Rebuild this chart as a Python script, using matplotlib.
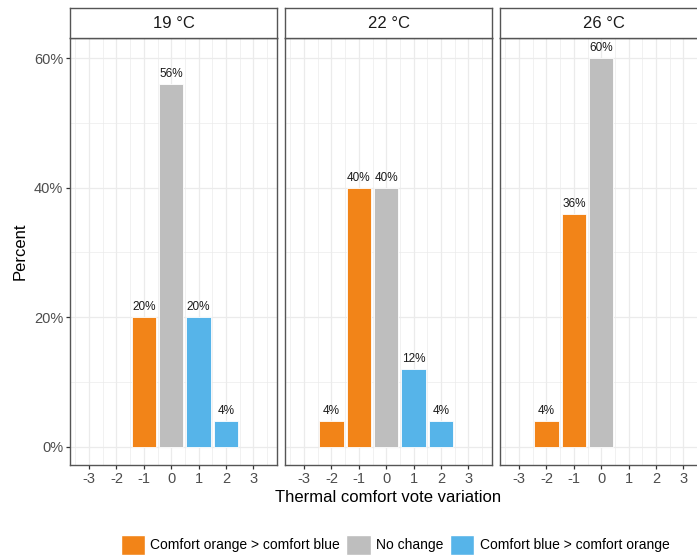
import matplotlib.pyplot as plt
from matplotlib.patches import Patch
from matplotlib.ticker import MultipleLocator

plt.rcParams["font.family"] = ["Liberation Sans", "DejaVu Sans"]

# facet labels (air temperature)
panel_labels = ["19 °C", "22 °C", "26 °C"]

# vote variation and share of votes per facet
votes_19 = [-1, 0, 1, 2]
pct_19 = [20, 56, 20, 4]
votes_22 = [-2, -1, 0, 1, 2]
pct_22 = [4, 40, 40, 12, 4]
votes_26 = [-2, -1, 0]
pct_26 = [4, 36, 60]

categories = ["Comfort orange > comfort blue", "No change",
              "Comfort blue > comfort orange"]
cat_colors = ["#F28418", "#BEBEBE", "#56B4E9"]

x_ticks = [-3, -2, -1, 0, 1, 2, 3]
y_ticks = [0, 20, 40, 60]

W, H = 697, 558
fig = plt.figure(figsize=(W / 100, H / 100), dpi=100)

panel_left = [70, 285, 500]
panel_w = 207
panel_top, panel_bot = 38, 465
strip_top = 8

border = "#555555"
grid_col = "#EBEBEB"
tick_col = "#4D4D4D"

data = [(votes_19, pct_19), (votes_22, pct_22), (votes_26, pct_26)]

for i, (votes, pct) in enumerate(data):
    left = panel_left[i] / W
    ax = fig.add_axes([left, 1 - panel_bot / H, panel_w / W,
                       (panel_bot - panel_top) / H])
    cols = [cat_colors[0] if v < 0 else cat_colors[1] if v == 0 else cat_colors[2]
            for v in votes]
    ax.bar(votes, pct, width=0.9, color=cols, edgecolor="white",
           linewidth=0.6, zorder=3)
    for v, p in zip(votes, pct):
        ax.text(v, p + 0.6, f"{p}%", ha="center", va="bottom",
                fontsize=8.5, color="#1A1A1A", zorder=4)

    ax.set_xlim(-3.7, 3.87)
    ax.set_ylim(-2.82, 63.1)
    ax.set_xticks(x_ticks)
    ax.set_xticklabels([str(t) for t in x_ticks])
    ax.xaxis.set_minor_locator(MultipleLocator(0.5))
    ax.set_yticks(y_ticks)
    ax.set_yticklabels([f"{t}%" for t in y_ticks])
    ax.yaxis.set_minor_locator(MultipleLocator(10))
    ax.grid(which="major", color=grid_col, linewidth=0.9, zorder=0)
    ax.grid(which="minor", color=grid_col, linewidth=0.5, zorder=0)
    ax.set_axisbelow(True)
    ax.tick_params(which="minor", length=0)
    ax.tick_params(which="major", length=3, width=0.9, color="#333333",
                   labelcolor=tick_col, labelsize=10.5, pad=2)
    if i > 0:
        ax.tick_params(axis="y", left=False, labelleft=False)
    for s in ax.spines.values():
        s.set_color(border)
        s.set_linewidth(1.0)

    # facet strip
    st = fig.add_axes([left, 1 - panel_top / H, panel_w / W,
                       (panel_top - strip_top) / H])
    st.set_xticks([])
    st.set_yticks([])
    st.set_facecolor("white")
    for s in st.spines.values():
        s.set_color(border)
        s.set_linewidth(1.0)
    st.text(0.5, 0.5, panel_labels[i], ha="center", va="center",
            fontsize=12, color="#1A1A1A", transform=st.transAxes)

fig.text(388 / W, 1 - 498 / H, "Thermal comfort vote variation",
         ha="center", va="center", fontsize=12)
fig.text(20 / W, 1 - 251 / H, "Percent", ha="center", va="center",
         rotation=90, fontsize=12)

handles = [Patch(facecolor=c, edgecolor="white") for c in cat_colors]
fig.legend(handles, categories, loc="center", ncol=3,
           bbox_to_anchor=(395 / W, 1 - 545 / H), frameon=False,
           fontsize=10, handlelength=1.75, handleheight=1.75,
           handletextpad=0.4, columnspacing=0.45)

fig.savefig("out.png", dpi=100)
